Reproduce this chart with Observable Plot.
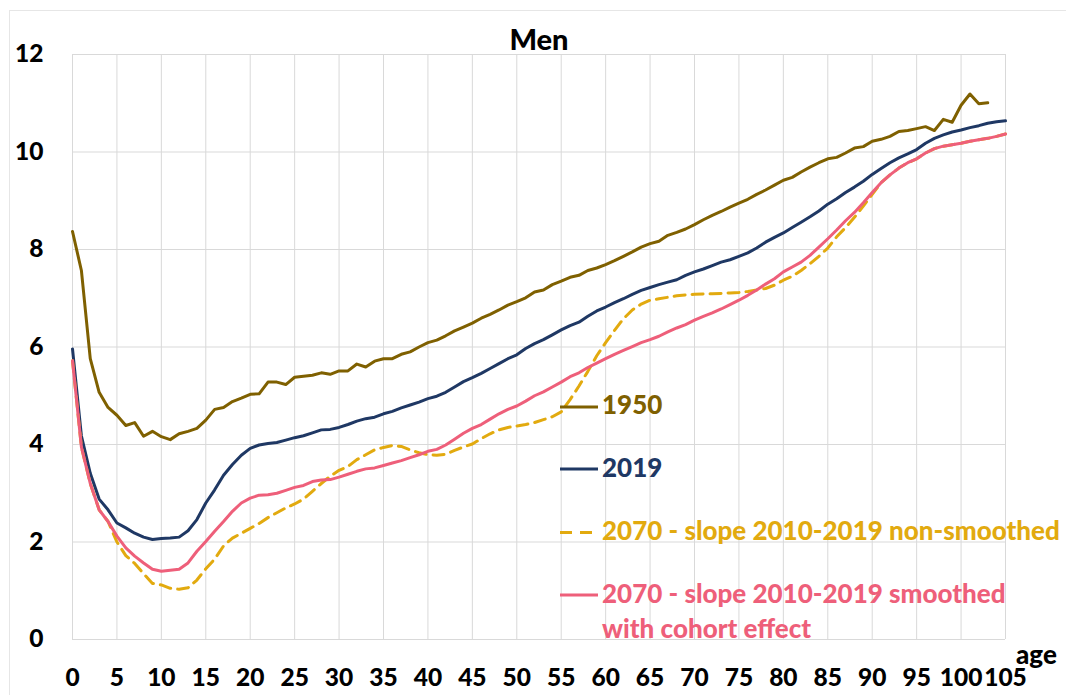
<!DOCTYPE html>
<html>
<head>
<meta charset="utf-8">
<script src="https://cdn.jsdelivr.net/npm/d3@7"></script>
<script src="https://cdn.jsdelivr.net/npm/@observablehq/plot@0.6"></script>
<style>
  body { margin: 0; background: #fff; }
  #wrap { position: relative; width: 1066px; height: 695px; overflow: hidden; }
  #frame { position: absolute; left: 9px; top: 10px; width: 1070px; height: 700px;
           border-left: 1px solid #e6e6e6; border-top: 1px solid #e6e6e6; pointer-events: none; }
</style>
</head>
<body>
<div id="wrap"><div id="frame"></div></div>
<script>
const ages = [0,1,2,3,4,5,6,7,8,9,10,11,12,13,14,15,16,17,18,19,20,21,22,23,24,25,26,27,28,29,30,31,32,33,34,35,36,37,38,39,40,41,42,43,44,45,46,47,48,49,50,51,52,53,54,55,56,57,58,59,60,61,62,63,64,65,66,67,68,69,70,71,72,73,74,75,76,77,78,79,80,81,82,83,84,85,86,87,88,89,90,91,92,93,94,95,96,97,98,99,100,101,102,103,104,105];

const v1950 = [8.37,7.57,5.76,5.07,4.76,4.60,4.39,4.45,4.17,4.27,4.16,4.10,4.22,4.27,4.33,4.50,4.72,4.76,4.88,4.95,
  5.03,5.04,5.28,5.28,5.23,5.38,5.40,5.42,5.47,5.44,5.51,5.51,5.65,5.59,5.71,5.76,5.76,5.85,5.90,6.00,
  6.09,6.14,6.23,6.33,6.41,6.49,6.59,6.67,6.76,6.86,6.93,7.01,7.13,7.17,7.28,7.35,7.43,7.47,7.57,7.62,
  7.69,7.77,7.86,7.95,8.05,8.12,8.17,8.29,8.35,8.42,8.51,8.61,8.70,8.78,8.87,8.95,9.03,9.13,9.22,9.32,
  9.42,9.48,9.59,9.69,9.78,9.86,9.89,9.98,10.08,10.11,10.22,10.26,10.32,10.42,10.44,10.48,10.52,10.44,10.67,10.61,
  10.96,11.19,10.99,11.01];

const v2019 = [5.96,4.18,3.41,2.88,2.66,2.39,2.29,2.18,2.10,2.05,2.07,2.08,2.10,2.23,2.46,2.80,3.07,3.37,3.59,3.78,
  3.92,3.99,4.02,4.04,4.09,4.14,4.18,4.24,4.30,4.31,4.35,4.41,4.48,4.53,4.56,4.63,4.68,4.75,4.81,4.87,
  4.94,4.99,5.07,5.18,5.29,5.37,5.46,5.56,5.66,5.76,5.84,5.97,6.07,6.15,6.25,6.35,6.44,6.51,6.63,6.74,
  6.82,6.91,6.99,7.08,7.16,7.22,7.28,7.33,7.38,7.47,7.54,7.60,7.67,7.74,7.79,7.86,7.93,8.03,8.15,8.25,
  8.34,8.45,8.56,8.67,8.79,8.93,9.04,9.17,9.28,9.40,9.54,9.66,9.78,9.88,9.96,10.05,10.18,10.28,10.35,10.41,
  10.45,10.50,10.54,10.59,10.62,10.64];

const v2070raw = [5.72,3.95,3.20,2.66,2.42,2.00,1.72,1.56,1.35,1.15,1.12,1.05,1.03,1.06,1.22,1.45,1.65,1.92,2.08,2.18,
  2.28,2.38,2.50,2.60,2.70,2.78,2.88,3.04,3.20,3.35,3.47,3.55,3.69,3.79,3.89,3.94,3.98,3.96,3.89,3.83,
  3.79,3.78,3.80,3.88,3.95,4.01,4.12,4.22,4.30,4.35,4.38,4.41,4.45,4.51,4.57,4.67,4.92,5.20,5.50,5.82,
  6.09,6.34,6.58,6.76,6.88,6.96,6.99,7.02,7.05,7.07,7.08,7.09,7.09,7.10,7.11,7.12,7.14,7.17,7.20,7.27,
  7.37,7.45,7.57,7.71,7.86,8.03,8.26,8.45,8.66,8.89,9.13,9.37,9.53,9.67,9.78,9.86,9.98,10.07,10.12,10.15,
  10.18,10.22,10.25,10.28,10.32,10.37];

const v2070smooth = [5.72,3.95,3.20,2.66,2.42,2.12,1.88,1.71,1.57,1.44,1.40,1.42,1.44,1.57,1.81,2.01,2.22,2.42,2.63,2.80,
  2.90,2.96,2.97,3.00,3.06,3.12,3.16,3.24,3.27,3.28,3.33,3.39,3.45,3.50,3.52,3.57,3.62,3.67,3.73,3.79,
  3.86,3.90,3.99,4.11,4.23,4.33,4.41,4.52,4.63,4.72,4.79,4.89,5.00,5.08,5.18,5.28,5.39,5.47,5.58,5.67,
  5.76,5.85,5.93,6.01,6.09,6.15,6.22,6.31,6.39,6.46,6.55,6.63,6.70,6.78,6.87,6.96,7.06,7.17,7.29,7.40,
  7.54,7.64,7.74,7.88,8.05,8.22,8.40,8.59,8.76,8.96,9.17,9.37,9.53,9.67,9.78,9.86,9.98,10.07,10.12,10.15,
  10.18,10.22,10.25,10.28,10.32,10.37];

const xTicks = [0,5,10,15,20,25,30,35,40,45,50,55,60,65,70,75,80,85,90,95,100,105];
const yTicks = [0,2,4,6,8,10,12];

const seriesNames = ["1950", "2019", "2070 - slope 2010-2019 non-smoothed", "2070 - slope 2010-2019 smoothed"];
const seriesColors = ["#7f6000", "#1f3864", "#e2aa0f", "#ee5f7a"];
const titleText = "Men";
const axisLabelText = "age";
const smoothedSecondLine = "with cohort effect";

const toRows = (vals) => vals.map((v, i) => ({age: ages[i], v}));
const rows1950 = toRows(v1950);
const rows2019 = toRows(v2019);
const rowsRaw = toRows(v2070raw);
const rowsSmooth = toRows(v2070smooth);

const FONT = "Lato, 'Open Sans', sans-serif";
const WEIGHT = 900;

const chart = Plot.plot({
  width: 1066,
  height: 695,
  marginLeft: 72,
  marginRight: 61,
  marginTop: 54,
  marginBottom: 56,
  style: {fontFamily: FONT, fontWeight: WEIGHT, fontSize: "24.5px", color: "#000", background: "transparent"},
  x: {domain: [0, 105], label: null},
  y: {domain: [0, 12], label: null},
  marks: [
    Plot.gridX(xTicks, {stroke: "#d9d9d9", strokeOpacity: 1, strokeWidth: 1}),
    Plot.gridY(yTicks, {stroke: "#d9d9d9", strokeOpacity: 1, strokeWidth: 1}),
    Plot.axisX(xTicks, {tickSize: 0, tickPadding: 29, fontSize: 24.5, fontWeight: WEIGHT, fill: "#000", label: null}),
    Plot.axisY(yTicks, {tickSize: 0, tickPadding: 29, fontSize: 24.5, fontWeight: WEIGHT, fill: "#000", label: null}),
    Plot.line(rows1950, {x: "age", y: "v", stroke: seriesColors[0], strokeWidth: 3}),
    Plot.line(rows2019, {x: "age", y: "v", stroke: seriesColors[1], strokeWidth: 3}),
    Plot.line(rowsRaw, {x: "age", y: "v", stroke: seriesColors[2], strokeWidth: 3, strokeDasharray: "11,7"}),
    Plot.line(rowsSmooth, {x: "age", y: "v", stroke: seriesColors[3], strokeWidth: 3})
  ]
});

document.getElementById("wrap").appendChild(chart);

// Decorations: title, axis name and inline legend
const svg = d3.select(chart);
const deco = svg.append("g").attr("font-family", FONT).attr("font-weight", WEIGHT).attr("text-anchor", "start");

deco.append("text").attr("x", 539).attr("y", 50).attr("text-anchor", "middle")
  .attr("font-size", 29).attr("fill", "#000").text(titleText);

deco.append("text").attr("x", 1016).attr("y", 664).attr("text-anchor", "start")
  .attr("font-size", 26).attr("fill", "#000").text(axisLabelText);

const legendRows = [
  {name: seriesNames[0], color: seriesColors[0], ly: 407, ty: 414, dash: null},
  {name: seriesNames[1], color: seriesColors[1], ly: 469, ty: 477, dash: null},
  {name: seriesNames[2], color: seriesColors[2], ly: 532.5, ty: 540, dash: "12,8"},
  {name: seriesNames[3], color: seriesColors[3], ly: 595, ty: 603, dash: null}
];
legendRows.forEach(r => {
  deco.append("line").attr("x1", 560).attr("x2", 598).attr("y1", r.ly).attr("y2", r.ly)
    .attr("stroke", r.color).attr("stroke-width", 3)
    .attr("stroke-dasharray", r.dash);
  deco.append("text").attr("x", 602).attr("y", r.ty).attr("font-size", 26).attr("text-anchor", "start")
    .attr("fill", r.color).text(r.name);
});
deco.append("text").attr("x", 602).attr("y", 638).attr("font-size", 26).attr("text-anchor", "start")
  .attr("fill", seriesColors[3]).text(smoothedSecondLine);
</script>
</body>
</html>
